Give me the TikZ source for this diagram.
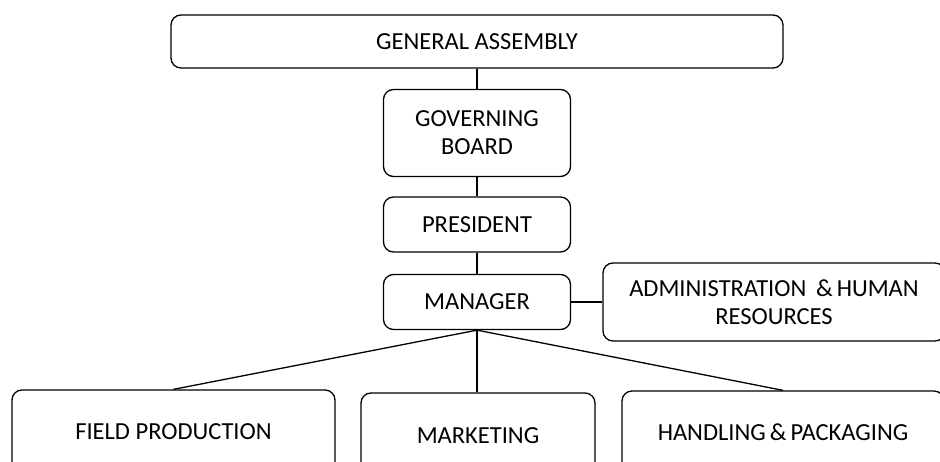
\documentclass[tikz,border=0pt]{standalone}
\usepackage{fontspec}
\setmainfont{Carlito}
\begin{document}
\begin{tikzpicture}[x=1pt,y=1pt,
  orgbox/.style={draw=black, line width=1.3pt, rounded corners=10pt, align=center,
    inner sep=0pt, font=\fontsize{24.5}{28}\selectfont},
  link/.style={draw=black, line width=1.3pt}]
\useasboundingbox (0,0) rectangle (940,-462);
\clip (0,0) rectangle (940,-462);
\fill[white] (0,0) rectangle (940,-462);

\node[orgbox, minimum width=612pt, minimum height=53pt] (ga) at (477,-41.5) {GENERAL ASSEMBLY};
\node[orgbox, minimum width=187pt, minimum height=87pt] (gb) at (477,-133) {GOVERNING\\BOARD};
\node[orgbox, minimum width=187pt, minimum height=55pt] (pres) at (477,-224.5) {PRESIDENT};
\node[orgbox, minimum width=187pt, minimum height=55pt] (mgr) at (477,-302) {MANAGER};
\node[orgbox, minimum width=342pt, minimum height=78pt] (admin) at (774,-302) {ADMINISTRATION \,\&\,HUMAN\\RESOURCES};

\node[orgbox, minimum width=323pt, minimum height=84pt] (field) at (173.5,-432) {FIELD PRODUCTION};
\node[orgbox, minimum width=234pt, minimum height=86pt] (mkt) at (478,-436) {MARKETING};
\node[orgbox, minimum width=322pt, minimum height=82pt] (hand) at (783,-432) {HANDLING\,\&\,PACKAGING};

\draw[link] (ga.south) -- (gb.north);
\draw[link] (gb.south) -- (pres.north);
\draw[link] (pres.south) -- (mgr.north);
\draw[link] (mgr.east) -- (admin.west);
\draw[link] (mgr.south) -- (field.north);
\draw[link] (mgr.south) -- (mkt.north -| mgr.south);
\draw[link] (mgr.south) -- (hand.north);
\end{tikzpicture}
\end{document}
